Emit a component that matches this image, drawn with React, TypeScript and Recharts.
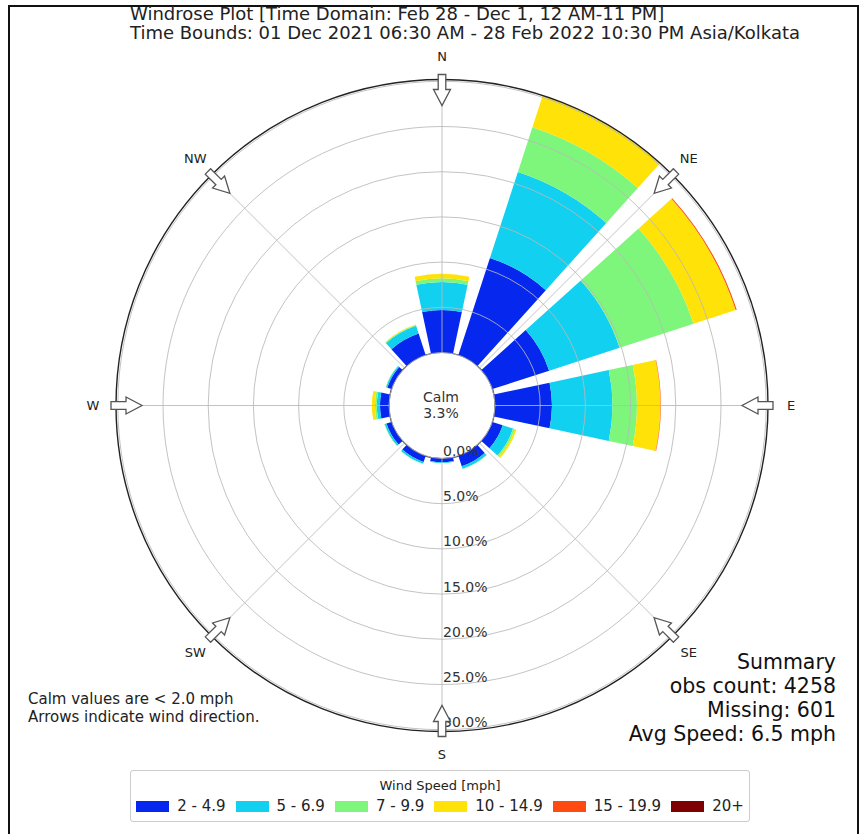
import React from "react"
import {
  PolarAngleAxis,
  PolarGrid,
  PolarRadiusAxis,
  RadialBar,
  RadialBarChart,
} from "recharts"

// 12 direction sectors of 30 degrees, clockwise from north
const directions = ["N", "NNE", "ENE", "E", "ESE", "SSE", "S", "SSW", "WSW", "W", "WNW", "NNW"]

// percent of observations in each speed bin, per sector
const speed2to5 = [4.7, 11.3, 6.6, 6.3, 1.2, 1.2, 0.4, 0.7, 0.6, 1.0, 0.5, 2.5]
const speed5to7 = [3.1, 10.0, 8.2, 6.7, 1.2, 0.3, 0.1, 0.2, 0.2, 0.35, 0.15, 0.9]
const speed7to10 = [0.4, 5.2, 8.6, 2.7, 0.2, 0.05, 0, 0.05, 0.05, 0.2, 0.05, 0.1]
const speed10to15 = [0.5, 3.7, 4.9, 2.6, 0.2, 0, 0, 0, 0, 0.35, 0, 0.05]
const speed15to20 = [0, 0.05, 0.12, 0.05, 0, 0, 0, 0, 0, 0, 0, 0]
const speed20plus = [0, 0, 0, 0, 0, 0, 0, 0, 0, 0, 0, 0]

const speedBins = ["2 - 4.9", "5 - 6.9", "7 - 9.9", "10 - 14.9", "15 - 19.9", "20+"]
const binColors = ["#0628ee", "#12d0f0", "#7ef67b", "#fee208", "#ff4a12", "#7f0000"]
const binValues = [speed2to5, speed5to7, speed7to10, speed10to15, speed15to20, speed20plus]

const radiusTicks = [0, 5, 10, 15, 20, 25, 30]
const radiusMax = 30.2
const calmPercent = 3.3

const compassLabels = ["N", "NE", "E", "SE", "S", "SW", "W", "NW"]
const compassBearings = [0, 45, 90, 135, 180, 225, 270, 315]

const titleLines = [
  "Windrose Plot [Time Domain: Feb 28 - Dec 1, 12 AM-11 PM]",
  "Time Bounds: 01 Dec 2021 06:30 AM - 28 Feb 2022 10:30 PM Asia/Kolkata",
]
const summaryLines = ["Summary", "obs count: 4258", "Missing: 601", "Avg Speed: 6.5 mph"]
const noteLines = ["Calm values are < 2.0 mph", "Arrows indicate wind direction."]

const data = directions.map((dir, i) => {
  const row: Record<string, any> = { dir }
  binValues.forEach((vals, b) => {
    row[`bin${b}`] = vals[i]
  })
  return row
})

const FONT = "'DejaVu Sans', Verdana, sans-serif"
const CX = 442
const CY = 405.5
const INNER = 53
const OUTER = 326

// svg angle (deg, counter-clockwise from east) for a compass bearing
const toSvgAngle = (bearing: number) => 90 - bearing
const gridAngles = compassBearings.map(toSvgAngle)

const RadiusTick = (props: any) => {
  const { x, y, payload } = props
  return (
    <text x={x + 1} y={y - 2.5} fontSize={14} fill="#333" fontFamily={FONT}>
      {`${Number(payload.value).toFixed(1)}%`}
    </text>
  )
}

const Arrow = ({ bearing }: { bearing: number }) => {
  const rad = (bearing * Math.PI) / 180
  const x = CX + 331 * Math.sin(rad)
  const y = CY - 331 * Math.cos(rad)
  const rot = (Math.atan2(Math.cos(rad), -Math.sin(rad)) * 180) / Math.PI
  return (
    <polygon
      points="0,-3.8 15,-3.8 15,-8.5 31,0 15,8.5 15,3.8 0,3.8"
      transform={`translate(${x},${y}) rotate(${rot})`}
      fill="#fff"
      stroke="#555"
      strokeWidth={1.3}
      strokeLinejoin="miter"
    />
  )
}

export default function App() {
  return (
    <div
      style={{
        position: "absolute",
        left: 0,
        top: 0,
        width: 860,
        height: 834,
        overflow: "hidden",
        background: "#fff",
        fontFamily: FONT,
      }}
    >
      <div
        style={{
          position: "absolute",
          left: 8,
          top: 5,
          width: 847,
          height: 840,
          borderLeft: "2px solid #111",
          borderTop: "2px solid #111",
          borderRight: "2px solid #111",
        }}
      />

      <div
        style={{
          position: "absolute",
          left: 130,
          top: 4,
          fontSize: 18,
          lineHeight: "19px",
          color: "#222",
          whiteSpace: "nowrap",
        }}
      >
        {titleLines.map((t) => (
          <div key={t}>{t}</div>
        ))}
      </div>

      <div style={{ position: "absolute", left: 0, top: 0 }}>
        <RadialBarChart
          width={860}
          height={834}
          data={data}
          layout="centric"
          cx={CX}
          cy={CY}
          innerRadius={INNER}
          outerRadius={OUTER}
          startAngle={75}
          endAngle={-285}
          barCategoryGap="10%"
          margin={{ top: 0, right: 0, bottom: 0, left: 0 }}
        >
          <PolarAngleAxis
            type="category"
            scale="band"
            dataKey="dir"
            tick={false}
            tickLine={false}
            axisLineType="circle"
            axisLine={{ stroke: "#222", strokeWidth: 1.4 }}
          />
          {speedBins.map((bin, b) => (
            <RadialBar
              key={bin}
              dataKey={`bin${b}`}
              stackId="wind"
              fill={binColors[b]}
              isAnimationActive={false}
            />
          ))}
          <PolarGrid
            gridType="circle"
            polarAngles={gridAngles}
            stroke="#b9b9b9"
            strokeOpacity={0.85}
            zIndex={400}
          />
          <g>
            <circle cx={CX} cy={CY} r={INNER} fill="#fff" stroke="#333" strokeWidth={1.2} />
            <text x={CX - 1} y={CY - 9} textAnchor="middle" dominantBaseline="central" fontSize={14} fill="#333" fontFamily={FONT}>
              Calm
            </text>
            <text x={CX - 1} y={CY + 7} textAnchor="middle" dominantBaseline="central" fontSize={14} fill="#333" fontFamily={FONT}>
              {`${calmPercent.toFixed(1)}%`}
            </text>
          </g>
          <PolarRadiusAxis
            type="number"
            domain={[0, radiusMax]}
            ticks={radiusTicks}
            angle={-90}
            axisLine={false}
            tickLine={false}
            tick={RadiusTick}
          />
        </RadialBarChart>
      </div>

      <svg
        width={860}
        height={834}
        style={{ position: "absolute", left: 0, top: 0, pointerEvents: "none" }}
      >
        {compassBearings.map((b, i) => {
          const rad = (b * Math.PI) / 180
          return (
            <g key={compassLabels[i]}>
              <Arrow bearing={b} />
              <text
                x={CX + 349 * Math.sin(rad)}
                y={CY - 349 * Math.cos(rad)}
                textAnchor="middle"
                dominantBaseline="central"
                fontSize={13}
                fill="#222"
                fontFamily={FONT}
              >
                {compassLabels[i]}
              </text>
            </g>
          )
        })}
      </svg>

      <div
        style={{
          position: "absolute",
          left: 28,
          top: 690,
          fontSize: 15,
          lineHeight: "18px",
          color: "#222",
          whiteSpace: "nowrap",
        }}
      >
        {noteLines.map((t) => (
          <div key={t}>{t}</div>
        ))}
      </div>

      <div
        style={{
          position: "absolute",
          right: 24,
          top: 650,
          fontSize: 20.5,
          lineHeight: "24px",
          color: "#111",
          textAlign: "right",
          whiteSpace: "nowrap",
        }}
      >
        {summaryLines.map((t) => (
          <div key={t}>{t}</div>
        ))}
      </div>

      <div
        style={{
          position: "absolute",
          left: 130,
          top: 770,
          width: 620,
          height: 52,
          boxSizing: "border-box",
          border: "1px solid #ccc",
          borderRadius: 3,
          background: "#fff",
          color: "#222",
        }}
      >
        <div style={{ textAlign: "center", fontSize: 13, lineHeight: "16px", marginTop: 7 }}>
          Wind Speed [mph]
        </div>
        <div
          style={{
            display: "flex",
            justifyContent: "center",
            alignItems: "center",
            marginTop: 2,
            height: 20,
            fontSize: 15,
          }}
        >
          {speedBins.map((bin, b) => (
            <div key={bin} style={{ display: "flex", alignItems: "center", marginRight: b < speedBins.length - 1 ? 10 : 0 }}>
              <span style={{ display: "inline-block", width: 33, height: 11, background: binColors[b] }} />
              <span style={{ marginLeft: 8, whiteSpace: "nowrap" }}>{bin}</span>
            </div>
          ))}
        </div>
      </div>
    </div>
  )
}
